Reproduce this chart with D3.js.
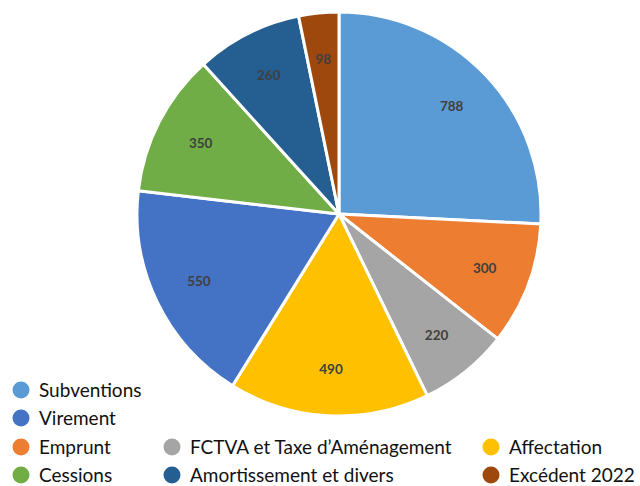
<!DOCTYPE html>
<html>
<head>
<meta charset="utf-8">
<script src="https://cdn.jsdelivr.net/npm/d3@7"></script>
<style>
  body { margin: 0; background: #fff; }
  .lbl { font-family: Lato, "Noto Sans", sans-serif; font-weight: bold; font-size: 13.5px; fill: #404040; }
  .leg { font-family: Lato, "Noto Sans", sans-serif; font-size: 19px; fill: #111; }
</style>
</head>
<body>
<script>
const categories = ["Subventions", "Emprunt", "FCTVA et Taxe d\u2019Aménagement", "Affectation", "Virement", "Cessions", "Amortissement et divers", "Excédent 2022"]
const values = [788, 300, 220, 490, 550, 350, 260, 98]
const colors = ["#5B9BD5", "#ED7D31", "#A5A5A5", "#FFC000", "#4472C4", "#70AD47", "#255E91", "#9E480E"]
// legend order, as in the reference (row by row)
const legendOrder = ["Subventions", "Virement", "Emprunt", "FCTVA et Taxe d\u2019Aménagement", "Affectation", "Cessions", "Amortissement et divers", "Excédent 2022"]
const legendRows = [[0], [1], [2, 3, 4], [5, 6, 7]]

const width = 640
const height = 486
const cx = 339
const cy = 214
const radius = 202

const svg = d3.select("body")
    .append("svg")
    .attr("width", width)
    .attr("height", height)

const color = d3.scaleOrdinal().domain(categories).range(colors)

const pie = d3.pie().sort(null).value(d => d.value)
const data = categories.map((c, i) => ({name: c, value: values[i]}))
const arcs = pie(data)

const arc = d3.arc().innerRadius(0).outerRadius(radius)
const labelArc = d3.arc().innerRadius(radius * 0.77).outerRadius(radius * 0.77)

const g = svg.append("g").attr("transform", `translate(${cx},${cy})`)

g.selectAll("path")
    .data(arcs)
    .join("path")
    .attr("d", arc)
    .attr("fill", d => color(d.data.name))
    .attr("stroke", "#fff")
    .attr("stroke-width", 3)
    .attr("stroke-linejoin", "round")

g.selectAll("text")
    .data(arcs)
    .join("text")
    .attr("class", "lbl")
    .attr("transform", d => `translate(${labelArc.centroid(d)})`)
    .attr("text-anchor", "middle")
    .attr("dy", "0.35em")
    .text(d => d.data.value)

// legend
const colX = [21, 172, 491]
const rowY = [390, 418, 447, 475]
const legend = svg.append("g")
legendRows.forEach((row, r) => {
    row.forEach((idx, c) => {
        const name = legendOrder[idx]
        const item = legend.append("g").attr("transform", `translate(${colX[c]},${rowY[r]})`)
        item.append("circle").attr("r", 8.5).attr("fill", color(name))
        item.append("text")
            .attr("class", "leg")
            .attr("x", 18)
            .attr("dy", "0.35em")
            .text(name)
    })
})
</script>
</body>
</html>
